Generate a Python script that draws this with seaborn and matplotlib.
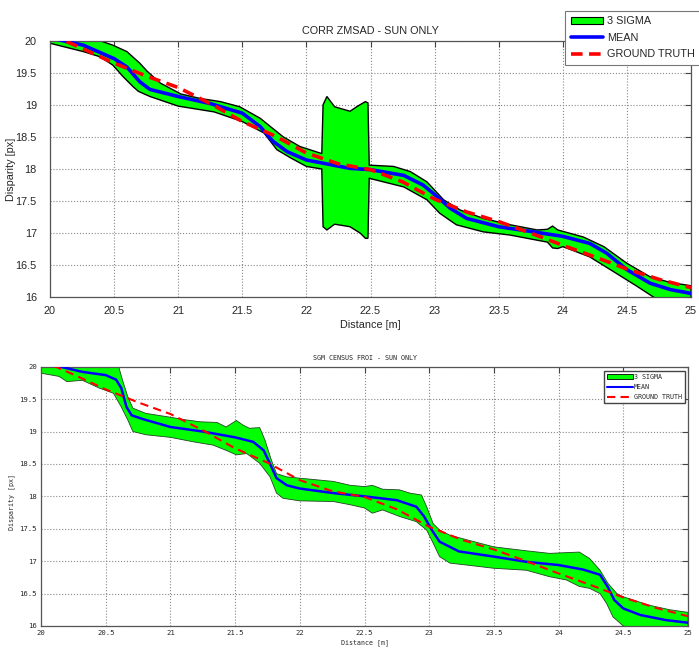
import numpy as np
import matplotlib
matplotlib.use("Agg")
import matplotlib.pyplot as plt
import seaborn as sns
from matplotlib.patches import Patch
from matplotlib.lines import Line2D

# ground truth disparity (shared by both panels)
gt_x = [20.0, 20.25, 20.5, 20.75, 21.0, 21.25, 21.5, 21.75, 22.0, 22.25, 22.5,
        22.75, 23.0, 23.25, 23.5, 23.75, 24.0, 24.25, 24.5, 24.75, 25.0]
gt_y = [20.1, 19.88, 19.65, 19.45, 19.27, 19.02, 18.74, 18.52, 18.25, 18.08, 17.99,
        17.8, 17.53, 17.33, 17.18, 17.0, 16.81, 16.63, 16.44, 16.28, 16.15]

# --- CORR ZMSAD ---
zm_mean_x = [20.0, 20.1, 20.26, 20.5, 20.6, 20.7, 20.78, 21.0, 21.25, 21.5, 21.64, 21.74,
             21.85, 22.0, 22.34, 22.5, 22.76, 22.91, 23.02, 23.12, 23.25, 23.5, 23.74,
             24.0, 24.21, 24.34, 24.5, 24.68, 24.84, 25.0]
zm_mean_y = [20.06, 20.0, 19.93, 19.72, 19.59, 19.36, 19.24, 19.13, 19.02, 18.87, 18.66, 18.43,
             18.27, 18.14, 18.01, 17.99, 17.9, 17.75, 17.57, 17.39, 17.23, 17.1, 17.03,
             16.95, 16.84, 16.69, 16.43, 16.22, 16.12, 16.06]
zm_up_x = [20.0, 20.2, 20.39, 20.49, 20.6, 20.7, 20.76, 20.86, 21.02, 21.17, 21.33, 21.48,
           21.64, 21.72, 21.82, 21.95, 22.12, 22.13, 22.16, 22.22, 22.34, 22.4, 22.46,
           22.48, 22.49, 22.68, 22.81, 22.94, 23.07, 23.2, 23.38, 23.59, 23.8, 23.88,
           23.92, 23.96, 24.16, 24.32, 24.5, 24.68, 24.84, 25.0]
zm_up_y = [20.15, 20.1, 20.0, 19.93, 19.83, 19.65, 19.52, 19.34, 19.17, 19.1, 19.05, 18.97,
           18.79, 18.66, 18.5, 18.35, 18.24, 19.0, 19.13, 18.97, 18.9, 18.98, 19.05,
           19.03, 18.06, 18.04, 17.96, 17.8, 17.52, 17.36, 17.23, 17.13, 17.05, 17.06,
           17.11, 17.05, 16.94, 16.79, 16.53, 16.32, 16.23, 16.18]
zm_lo_x = [20.0, 20.26, 20.39, 20.49, 20.57, 20.65, 20.69, 20.78, 21.0, 21.28, 21.5, 21.67,
           21.77, 21.88, 22.0, 22.12, 22.13, 22.16, 22.22, 22.34, 22.42, 22.46, 22.48,
           22.49, 22.5, 22.76, 22.94, 23.04, 23.17, 23.38, 23.59, 23.8, 23.88, 23.92,
           23.96, 24.0, 24.21, 24.42, 24.58, 24.71, 25.0]
zm_lo_y = [19.96, 19.83, 19.75, 19.62, 19.44, 19.28, 19.21, 19.13, 18.98, 18.89, 18.74, 18.56,
           18.3, 18.17, 18.04, 18.0, 17.1, 17.05, 17.14, 17.1, 17.0, 16.92, 16.92,
           17.86, 17.85, 17.72, 17.52, 17.31, 17.13, 17.02, 16.97, 16.89, 16.86, 16.77,
           16.76, 16.79, 16.63, 16.37, 16.17, 16.0, 15.8]

# --- SGM CENSUS FROI ---
sgm_mean_x = [20.0, 20.15, 20.32, 20.5, 20.58, 20.62, 20.66, 20.7, 20.79, 21.0, 21.25, 21.5,
              21.64, 21.72, 21.77, 21.82, 21.9, 22.0, 22.26, 22.5, 22.75, 22.9, 22.96, 23.02,
              23.08, 23.23, 23.5, 23.75, 24.0, 24.19, 24.32, 24.38, 24.43, 24.5, 24.63,
              24.83, 25.0]
sgm_mean_y = [20.05, 20.0, 19.92, 19.87, 19.8, 19.67, 19.38, 19.25, 19.19, 19.07, 19.0, 18.91,
              18.84, 18.71, 18.5, 18.28, 18.17, 18.12, 18.05, 18.0, 17.94, 17.84, 17.69, 17.48,
              17.3, 17.15, 17.07, 16.99, 16.94, 16.87, 16.79, 16.6, 16.4, 16.27, 16.17,
              16.09, 16.05]
sgm_up_x = [20.0, 20.6, 20.63, 20.67, 20.71, 20.81, 21.0, 21.12, 21.23, 21.36, 21.43, 21.51,
            21.56, 21.61, 21.69, 21.73, 21.78, 21.82, 21.9, 22.0, 22.26, 22.39, 22.5, 22.56,
            22.64, 22.77, 22.85, 22.94, 22.98, 23.03, 23.08, 23.16, 23.29, 23.5, 23.75,
            23.93, 24.16, 24.24, 24.32, 24.38, 24.45, 24.5, 24.7, 24.86, 25.0]
sgm_up_y = [20.2, 20.0, 19.79, 19.54, 19.36, 19.28, 19.22, 19.18, 19.15, 19.14, 19.07, 19.17,
            19.1, 19.05, 19.06, 18.87, 18.56, 18.35, 18.3, 18.28, 18.23, 18.17, 18.15, 18.17,
            18.11, 18.1, 18.05, 18.02, 17.84, 17.58, 17.48, 17.4, 17.33, 17.22, 17.16,
            17.12, 17.14, 17.04, 16.86, 16.66, 16.5, 16.45, 16.32, 16.25, 16.21]
sgm_lo_x = [20.0, 20.14, 20.2, 20.32, 20.45, 20.56, 20.62, 20.67, 20.71, 20.81, 21.0, 21.18,
            21.33, 21.43, 21.51, 21.59, 21.69, 21.77, 21.82, 21.87, 22.0, 22.26, 22.39, 22.5,
            22.56, 22.64, 22.77, 22.9, 22.98, 23.03, 23.08, 23.16, 23.29, 23.5, 23.75,
            23.93, 24.06, 24.16, 24.24, 24.32, 24.37, 24.42, 24.5, 25.0]
sgm_lo_y = [19.9, 19.85, 19.77, 19.79, 19.67, 19.59, 19.38, 19.18, 19.0, 18.95, 18.91, 18.84,
            18.79, 18.71, 18.64, 18.66, 18.51, 18.3, 18.05, 17.97, 17.93, 17.92, 17.87, 17.82,
            17.74, 17.79, 17.69, 17.61, 17.48, 17.28, 17.07, 16.97, 16.94, 16.89, 16.86,
            16.76, 16.71, 16.61, 16.58, 16.5, 16.35, 16.14, 16.0, 15.7]

x_ticks = np.arange(20, 25.01, 0.5)
y_ticks = np.arange(16, 20.01, 0.5)

sns.set_style("white")
plt.rcParams['font.family'] = ['Liberation Sans', 'DejaVu Sans']

fig = plt.figure(figsize=(6.99, 6.48), dpi=100)
ax1 = fig.add_axes([0.0715, 0.5412, 0.9171, 0.396])
ax2 = fig.add_axes([0.0587, 0.034, 0.9256, 0.4001])


def setup_axes(ax, font, fsize, title, tsize, xpad, ypad):
    ax.set_xlim(20, 25)
    ax.set_ylim(16, 20)
    ax.set_xticks(x_ticks)
    ax.set_yticks(y_ticks)
    ax.set_xticklabels([f"{v:g}" for v in x_ticks], family=font, fontsize=fsize)
    ax.set_yticklabels([f"{v:g}" for v in y_ticks], family=font, fontsize=fsize)
    ax.grid(True, color='#888888', linestyle=':', linewidth=0.8)
    ax.tick_params(direction='in', top=True, right=True, length=4, width=0.8,
                   color='#444444')
    ax.tick_params(axis='x', pad=xpad)
    ax.tick_params(axis='y', pad=ypad)
    for s in ax.spines.values():
        s.set_color('#555555')
        s.set_linewidth(0.9)
    ax.set_title(title, family=font, fontsize=tsize, pad=5)


# top panel
ax1.fill(np.concatenate([zm_up_x, zm_lo_x[::-1]]), np.concatenate([zm_up_y, zm_lo_y[::-1]]),
         facecolor='#00ff00', edgecolor='black', linewidth=1.0, zorder=2)
sns.lineplot(x=zm_mean_x, y=zm_mean_y, ax=ax1, color='#0000ff', linewidth=2.6,
             estimator=None, sort=False, zorder=3)
sns.lineplot(x=gt_x, y=gt_y, ax=ax1, color='#ff0000', linewidth=2.6, estimator=None,
             sort=False, linestyle=(0, (3.2, 1.8)), zorder=4)
setup_axes(ax1, 'Liberation Sans', 7.8, 'CORR ZMSAD - SUN ONLY', 7.8, 6.5, 9.5)
ax1.set_xlabel('Distance [m]', fontsize=7.8, labelpad=3)
ax1.set_ylabel('Disparity [px]', fontsize=7.8)
ax1.yaxis.set_label_coords(-0.053, 0.5)

h1 = [Patch(facecolor='#00ff00', edgecolor='black', linewidth=0.8),
      Line2D([], [], color='#0000ff', linewidth=2.6),
      Line2D([], [], color='#ff0000', linewidth=2.6, linestyle=(0, (3.2, 1.8)))]
leg1 = ax1.legend(h1, ['3 SIGMA', 'MEAN', 'GROUND TRUTH'], loc='upper left',
                  bbox_to_anchor=(0.809, 0.983), bbox_transform=fig.transFigure,
                  borderaxespad=0, fancybox=False, framealpha=1, edgecolor='#777777',
                  prop={'family': 'Liberation Sans', 'size': 7.8}, handlelength=3.0,
                  handletextpad=0.3, labelspacing=0.6, borderpad=0.5)
leg1.get_frame().set_linewidth(0.8)

# bottom panel
mono = 'DejaVu Sans Mono'
ax2.fill(np.concatenate([sgm_up_x, sgm_lo_x[::-1]]), np.concatenate([sgm_up_y, sgm_lo_y[::-1]]),
         facecolor='#00ff00', edgecolor='#224422', linewidth=0.6, zorder=2)
sns.lineplot(x=sgm_mean_x, y=sgm_mean_y, ax=ax2, color='#0000ff', linewidth=1.8,
             estimator=None, sort=False, zorder=3)
sns.lineplot(x=gt_x, y=gt_y, ax=ax2, color='#ff0000', linewidth=1.5, estimator=None,
             sort=False, linestyle=(0, (4, 2.5)), zorder=4)
setup_axes(ax2, mono, 5.2, 'SGM CENSUS FROI - SUN ONLY', 4.8, 3, 3)
ax2.set_xlabel('Distance [m]', family=mono, fontsize=4.8, labelpad=2)
ax2.set_ylabel('Disparity [px]', family=mono, fontsize=4.8)
ax2.yaxis.set_label_coords(-0.04, 0.48)

h2 = [Patch(facecolor='#00ff00', edgecolor='black', linewidth=0.6),
      Line2D([], [], color='#0000ff', linewidth=1.5),
      Line2D([], [], color='#ff0000', linewidth=1.5, linestyle=(0, (4, 2.5)))]
leg2 = ax2.legend(h2, ['3 SIGMA', 'MEAN', 'GROUND TRUTH'], loc='upper right',
                  bbox_to_anchor=(685 / 699, 1 - 371 / 648), bbox_transform=fig.transFigure,
                  borderaxespad=0, fancybox=False, framealpha=1, edgecolor='#444444',
                  prop={'family': mono, 'size': 4.8}, handlelength=3.8,
                  handletextpad=0.2, labelspacing=0.6, borderpad=0.45)
leg2.get_frame().set_linewidth(1.0)

fig.savefig('out.png', dpi=100)
